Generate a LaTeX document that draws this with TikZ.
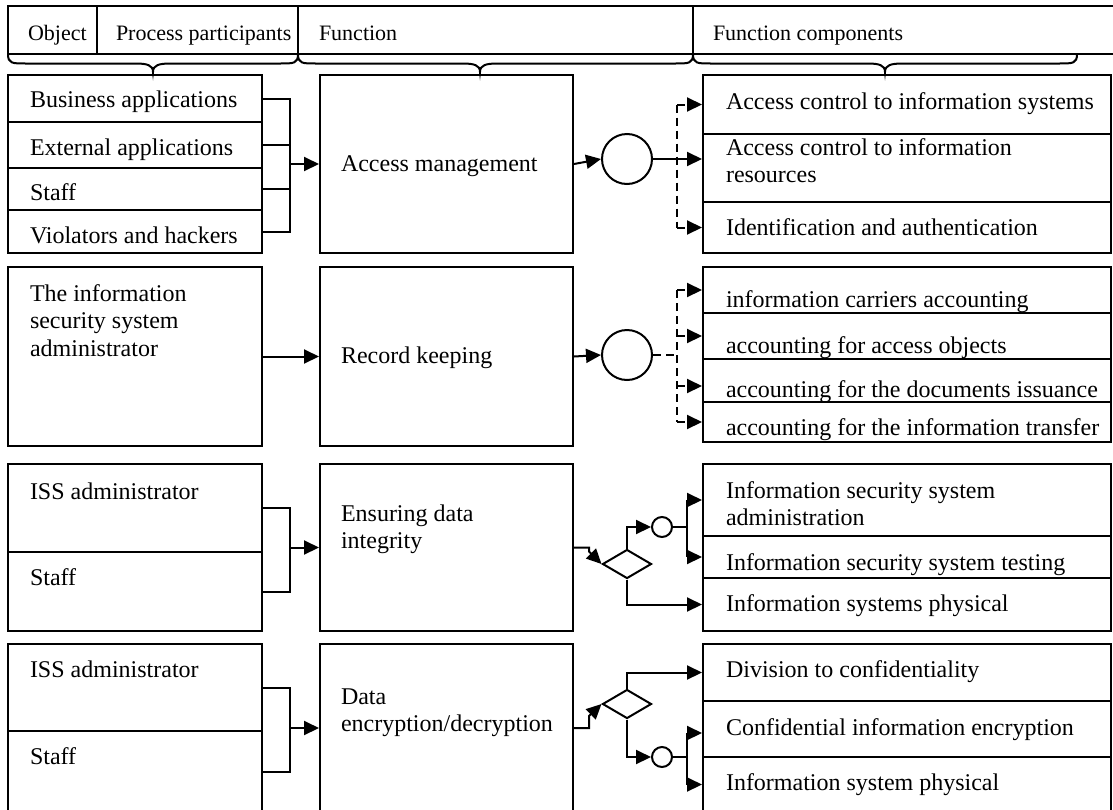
\documentclass[tikz,border=0pt]{standalone}
\usepackage{fontspec}
\setmainfont{Liberation Serif}
\usetikzlibrary{arrows.meta,shapes.geometric,fit}
\newcommand\mlines[1]{\begin{tabular}[t]{@{}l@{}}#1\end{tabular}}
\newcommand\brc[3]{%
  \draw (#1,54) .. controls (#1,63.5) and (#1+4,63.5) .. (#1+18,63.5) -- (#2-18,63.5)
    .. controls (#2-6,63.5) and (#2,65) .. (#2,72)
    .. controls (#2,65) and (#2+6,63.5) .. (#2+18,63.5) -- (#3-18,63.5)
    .. controls (#3-4,63.5) and (#3,63.5) .. (#3,54);}
\begin{document}
\begin{tikzpicture}[x=0.5pt,y=-0.5pt, line width=1pt,
  box/.style={draw, inner sep=0pt, line width=1pt},
  txt/.style={anchor=base west, inner sep=0pt, font=\fontsize{12}{13.75}\selectfont},
  htxt/.style={anchor=base west, inner sep=0pt, font=\fontsize{11}{13}\selectfont},
  arr/.style={-{Triangle[length=7.5pt,width=7pt]}},
  dsh/.style={dash pattern=on 4pt off 2.5pt},
  bigc/.style={circle, draw, minimum size=25pt, inner sep=0pt},
  smallc/.style={circle, draw, minimum size=10pt, inner sep=0pt},
  dia/.style={diamond, draw, minimum width=24.5pt, minimum height=14.5pt, inner sep=0pt}]
\clip (0,0) rectangle (1113,809);
\fill[white] (0,0) rectangle (1113,809);

% ---------- header ----------
\node[box, fit={(8,6) (97,54)}] (h1) {};
\node[box, fit={(97,6) (298,54)}] (h2) {};
\node[box, fit={(298,6) (693,54)}] (h3) {};
\node[box, fit={(693,6) (1118,54)}] (h4) {};
\node[htxt] (th1) at (27,40.5) {Object};
\node[htxt] (th2) at (115,40.5) {Process participants};
\node[htxt] (th3) at (318,40.5) {Function};
\node[htxt] (th4) at (712,40.5) {Function components};
\brc{8}{153}{298}
\brc{298}{480}{693}
\brc{693}{885}{1077}

\coordinate (bx) at (290,0);
\coordinate (dx) at (677,0);
\coordinate (jx) at (687,0);

% ---------- row 1 ----------
\node[box, fit={(8,75) (262,122)}] (l1a) {};
\node[box, fit={(8,122) (262,168)}] (l1b) {};
\node[box, fit={(8,168) (262,210)}] (l1c) {};
\node[box, fit={(8,210) (262,253)}] (l1d) {};
\node[txt] (tl1a) at (29,107) {Business applications};
\node[txt] (tl1b) at (29,155) {External applications};
\node[txt] (tl1c) at (29,200) {Staff};
\node[txt] (tl1d) at (29,243) {Violators and hackers};
\node[box, fit={(320,75) (573,253)}] (f1) {};
\node[txt] (tf1) at (340,171) {Access management};
\node[box, fit={(703,75) (1111,134)}] (r1a) {};
\node[box, fit={(703,134) (1111,202)}] (r1b) {};
\node[box, fit={(703,202) (1111,253)}] (r1c) {};
\node[txt] (tr1a) at (725,109) {Access control to information systems};
\node[txt] (tr1b) at (725,155) {\mlines{Access control to information\\resources}};
\node[txt] (tr1c) at (725,235) {Identification and authentication};
\node[bigc] (c1) at (627,159) {};

\draw (l1a.east) -- (bx |- l1a.east) -- (bx |- l1d.east) -- (l1d.east);
\draw (l1b.east) -- (bx |- l1b.east);
\draw (l1c.east) -- (bx |- l1c.east);
\draw[arr] (bx |- f1.west) -- (f1.west);
\draw[arr] (f1.east) -- (c1.west);
\draw[dsh] (dx |- r1a.west) -- (dx |- r1c.west);
\draw[arr] (c1.east) -- (c1.east -| r1b.west);
\draw[dsh,arr] (dx |- r1a.west) -- (r1a.west);
\draw[dsh,arr] (dx |- r1c.west) -- (r1c.west);

% ---------- row 2 ----------
\node[box, fit={(8,267) (262,446)}] (l2) {};
\node[txt] (tl2) at (29,301) {\mlines{The information\\security system\\administrator}};
\node[box, fit={(320,267) (573,446)}] (f2) {};
\node[txt] (tf2) at (340,363) {Record keeping};
\node[box, fit={(703,267) (1111,313)}] (r2a) {};
\node[box, fit={(703,313) (1111,359)}] (r2b) {};
\node[box, fit={(703,359) (1111,402)}] (r2c) {};
\node[box, fit={(703,402) (1111,442)}] (r2d) {};
\node[txt] (tr2a) at (725,307) {information carriers accounting};
\node[txt] (tr2b) at (725,353) {accounting for access objects};
\node[txt] (tr2c) at (725,397) {accounting for the documents issuance};
\node[txt] (tr2d) at (725,435) {accounting for the information transfer};
\node[bigc] (c2) at (627,355) {};

\draw[arr] (l2.east) -- (f2.west);
\draw[arr] (f2.east) -- (c2.west);
\draw[dsh] (c2.east) -- (dx |- c2.east);
\draw[dsh] (dx |- r2a.west) -- (dx |- r2d.west);
\draw[dsh,arr] (dx |- r2a.west) -- (r2a.west);
\draw[dsh,arr] (dx |- r2b.west) -- (r2b.west);
\draw[dsh,arr] ([yshift=-2.75pt]r2c.west -| dx) -- ([yshift=-2.75pt]r2c.west);
\draw[dsh,arr] (dx |- r2d.west) -- (r2d.west);

% ---------- row 3 ----------
\node[box, fit={(8,464) (262,552)}] (l3a) {};
\node[box, fit={(8,552) (262,631)}] (l3b) {};
\node[txt] (tl3a) at (29,499) {ISS administrator};
\node[txt] (tl3b) at (29,585) {Staff};
\node[box, fit={(320,464) (573,631)}] (f3) {};
\node[txt] (tf3) at (340,521) {\mlines{Ensuring data\\integrity}};
\node[box, fit={(703,464) (1111,536)}] (r3a) {};
\node[box, fit={(703,536) (1111,578)}] (r3b) {};
\node[box, fit={(703,578) (1111,631)}] (r3c) {};
\node[txt] (tr3a) at (725,498) {\mlines{Information security system\\administration}};
\node[txt] (tr3b) at (725,570) {Information security system testing};
\node[txt] (tr3c) at (725,611) {Information systems physical};
\node[dia] (dm3) at (627,564) {};
\node[smallc] (sc3) at (662,527) {};

\draw (l3a.east) -- (bx |- l3a.east) -- (bx |- l3b.east) -- (l3b.east);
\draw[arr] (bx |- f3.west) -- (f3.west);
\draw[arr] (f3.east) -- ++(15,0) -- ++(0,4) -- (dm3.west);
\draw[arr] (dm3.north) |- (sc3.west);
\draw (sc3.east) -- (jx |- sc3.east);
\draw (jx |- r3a.west) -- (jx |- r3b.west);
\draw[arr] (jx |- r3a.west) -- (r3a.west);
\draw[arr] (jx |- r3b.west) -- (r3b.west);
\draw[arr] (dm3.south) |- (r3c.west);

% ---------- row 4 ----------
\node[box, fit={(8,644) (262,731)}] (l4a) {};
\node[box, fit={(8,731) (262,812)}] (l4b) {};
\node[txt] (tl4a) at (29,677) {ISS administrator};
\node[txt] (tl4b) at (29,764) {Staff};
\node[box, fit={(320,644) (573,812)}] (f4) {};
\node[txt] (tf4) at (340,704) {\mlines{Data\\encryption/decryption}};
\node[box, fit={(703,644) (1111,701)}] (r4a) {};
\node[box, fit={(703,701) (1111,757)}] (r4b) {};
\node[box, fit={(703,757) (1111,812)}] (r4c) {};
\node[txt] (tr4a) at (725,677) {Division to confidentiality};
\node[txt] (tr4b) at (725,735) {Confidential information encryption};
\node[txt] (tr4c) at (725,790) {Information system physical};
\node[dia] (dm4) at (627,704) {};
\node[smallc] (sc4) at (662,757) {};

\draw (l4a.east) -- (bx |- l4a.east) -- (bx |- l4b.east) -- (l4b.east);
\draw[arr] (bx |- f4.west) -- (f4.west);
\draw[arr] (f4.east) -- ++(15,0) -- ++(0,-12) -- (dm4.west);
\draw[arr] (dm4.north) |- (r4a.west);
\draw[arr] (dm4.south) |- (sc4.west);
\draw (sc4.east) -- (jx |- sc4.east);
\draw ([yshift=-2pt]r4b.west -| jx) -- (jx |- r4c.west);
\draw[arr] ([yshift=-2pt]r4b.west -| jx) -- ([yshift=-2pt]r4b.west);
\draw[arr] (jx |- r4c.west) -- (r4c.west);
\end{tikzpicture}
\end{document}
